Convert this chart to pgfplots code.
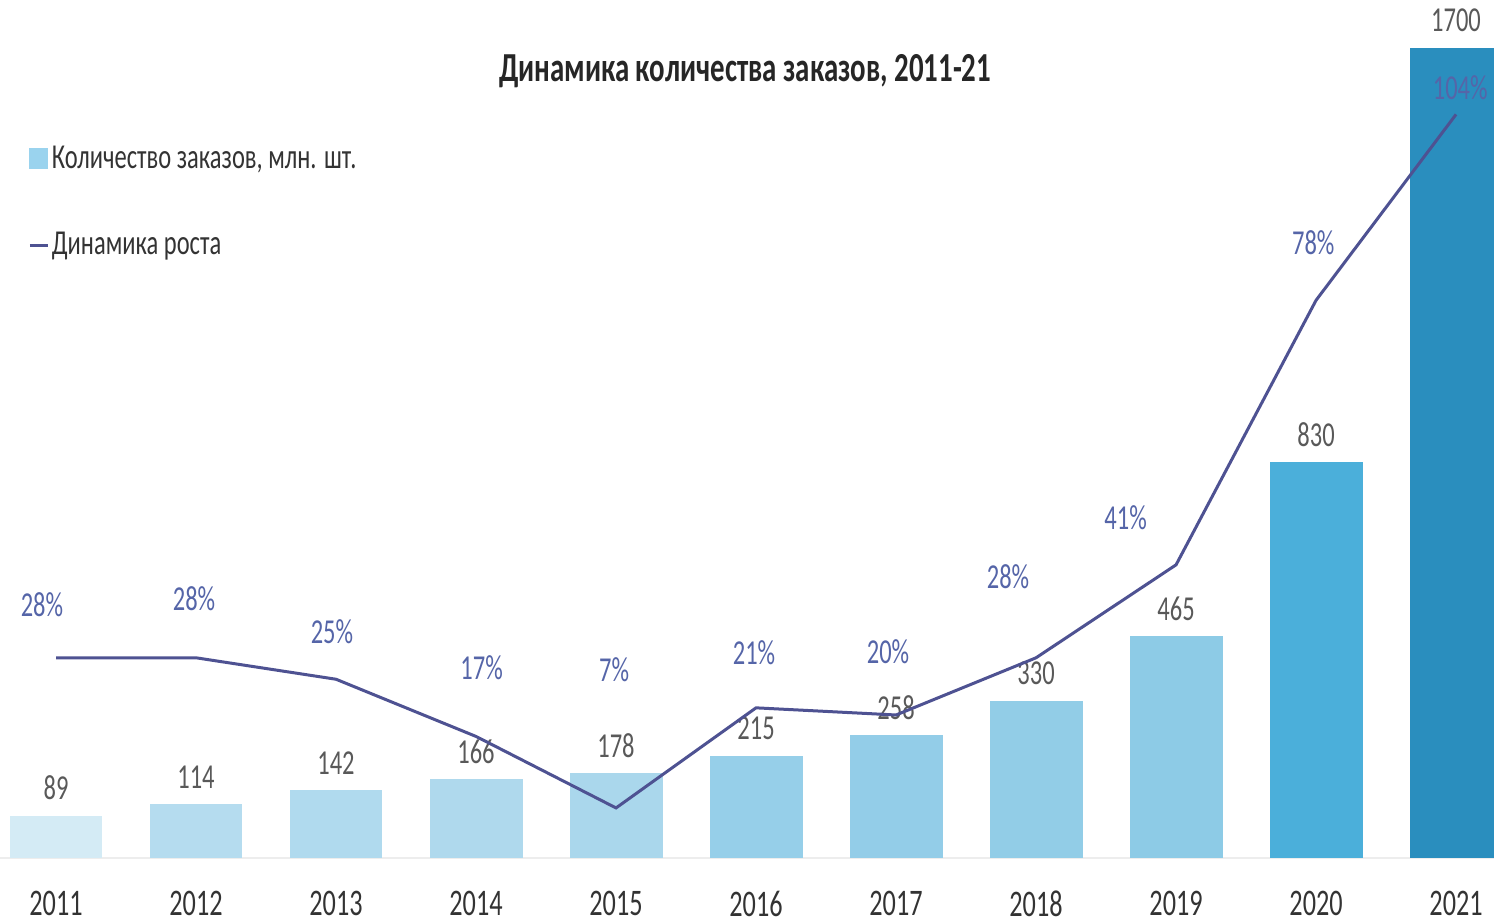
\documentclass[border=0pt]{standalone}
\usepackage{fontspec}
\setmainfont{Carlito}[FakeStretch=0.7]
\usepackage{pgfplots}
\pgfplotsset{compat=1.18}

\definecolor{b1}{HTML}{D4EBF5}
\definecolor{b2}{HTML}{B5DCEF}
\definecolor{b3}{HTML}{B0DAEE}
\definecolor{b4}{HTML}{AFD9ED}
\definecolor{b5}{HTML}{AAD7EC}
\definecolor{b6}{HTML}{96CFE9}
\definecolor{b7}{HTML}{93CDE8}
\definecolor{b8}{HTML}{92CDE7}
\definecolor{b9}{HTML}{8DCBE6}
\definecolor{b10}{HTML}{4BAFDA}
\definecolor{b11}{HTML}{2A8EBE}
\definecolor{linec}{HTML}{4E5292}
\definecolor{pctc}{HTML}{5565A8}
\definecolor{valc}{HTML}{595959}
\definecolor{legsq}{HTML}{9AD3EE}

\begin{document}
\begin{tikzpicture}
% bars
\begin{axis}[
    width=597.6pt, height=343.2pt, scale only axis,
    xmin=-0.4, xmax=10.271, ymin=0, ymax=1800,
    ybar, bar width=0.664, bar shift=0pt,
    axis x line*=bottom, axis y line=none,
    x axis line style={-, draw=black!7, line width=1pt},
    xtick={0,...,10},
    xticklabels={2011,2012,2013,2014,2015,2016,2017,2018,2019,2020,2021},
    xticklabel style={font=\fontsize{15}{17}\selectfont, text=black!80, anchor=north, inner sep=0pt, yshift=-13pt},
    major tick length=0pt, ytick=\empty,
    nodes near coords={\pgfmathprintnumber[assume math mode=true, 1000 sep={}]{\pgfplotspointmeta}},
    every node near coord/.append style={font=\fontsize{14}{16}\selectfont, text=valc, anchor=south, inner sep=0pt, yshift=6pt},
    title={Динамика количества заказов, 2011-21},
    title style={font=\bfseries\fontsize{16.5}{19}\selectfont, text=black!85, at={(axis description cs:0.4987,0.900)}, anchor=center, yshift=0pt},
    legend style={at={(axis description cs:0.0187,0.833)}, anchor=north west, draw=none, fill=none, inner sep=0pt,
        row sep=22pt, font=\fontsize{14}{16}\selectfont, text=black!80, nodes={inner sep=1pt}},
    legend cell align=left,
]
\addlegendimage{legend image code/.code={\fill[legsq] (0pt,-3.8pt) rectangle (7.2pt,4.2pt);}}
\addlegendimage{legend image code/.code={\draw[linec, line width=1.2pt] (0pt,0pt) -- (7.2pt,0pt);}}
\addplot[fill=b1, draw=none, forget plot] coordinates {(0,89)};
\addplot[fill=b2, draw=none, forget plot] coordinates {(1,114)};
\addplot[fill=b3, draw=none, forget plot] coordinates {(2,142)};
\addplot[fill=b4, draw=none, forget plot] coordinates {(3,166)};
\addplot[fill=b5, draw=none, forget plot] coordinates {(4,178)};
\addplot[fill=b6, draw=none, forget plot] coordinates {(5,215)};
\addplot[fill=b7, draw=none, forget plot] coordinates {(6,258)};
\addplot[fill=b8, draw=none, forget plot] coordinates {(7,330)};
\addplot[fill=b9, draw=none, forget plot] coordinates {(8,465)};
\addplot[fill=b10, draw=none, forget plot] coordinates {(9,830)};
\addplot[fill=b11, draw=none, forget plot] coordinates {(10,1700)};
\legend{{Количество заказов, млн. шт.}, {Динамика роста}}
\end{axis}
% growth line
\begin{axis}[
    width=597.6pt, height=343.2pt, scale only axis,
    xmin=-0.4, xmax=10.271, ymin=0, ymax=120,
    axis lines=none, ticks=none, clip=false,
]
\addplot[linec, line width=1.2pt, mark=none] coordinates {
    (0,28)(1,28)(2,25)(3,17)(4,7)(5,21)(6,20)(7,28)(8,41)(9,78)(10,104)};
\addplot[draw=none, mark=none, point meta=explicit symbolic,
    nodes near coords={\pgfplotspointmeta\%},
    every node near coord/.style={anchor=center, inner sep=0pt, font=\fontsize{14}{16}\selectfont, text=pctc}]
    table[meta=lab] {
x y lab
-0.10 35.4 28
0.986 36.2 28
1.971 31.7 25
3.04 26.6 17
3.986 26.3 7
4.986 28.7 21
5.943 28.8 20
6.80 39.3 28
7.64 47.6 41
8.98 86.0 78
10.03 107.7 104
};
\end{axis}
\pgfresetboundingbox
\path[use as bounding box] (0pt,-26pt) rectangle (597.6pt,343.2pt);
\end{tikzpicture}
\end{document}
